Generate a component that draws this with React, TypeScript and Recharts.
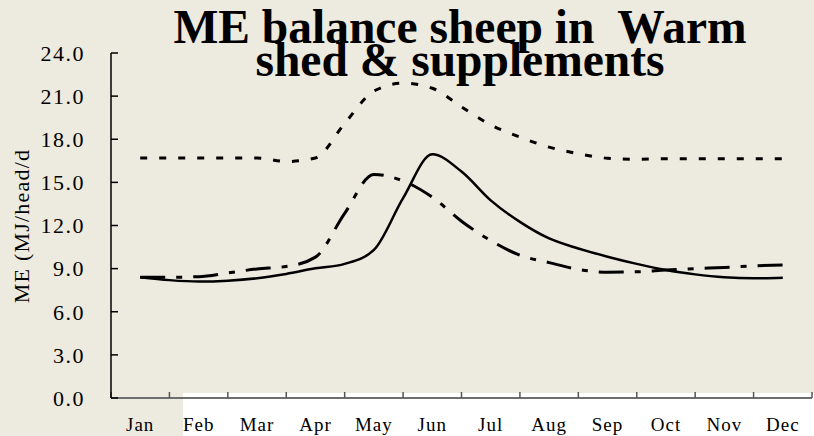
import React from 'react';
import { LineChart, Line, XAxis, YAxis } from 'recharts';

const MONTHS = ['Jan', 'Feb', 'Mar', 'Apr', 'May', 'Jun', 'Jul', 'Aug', 'Sep', 'Oct', 'Nov', 'Dec'];
const X_TICKS = [0, 1, 2, 3, 4, 5, 6, 7, 8, 9, 10, 11, 12];
const Y_TICKS = [0, 3, 6, 9, 12, 15, 18, 21, 24];

// time in months (half-month steps, month centres at .5)
const T = [0.5, 1, 1.5, 2, 2.5, 3, 3.5, 4, 4.5, 5, 5.5, 6, 6.5, 7, 7.5, 8, 8.5, 9, 9.5, 10, 10.5, 11, 11.5];
const SOLID = [8.4, 8.2, 8.1, 8.16, 8.33, 8.63, 9.02, 9.33, 10.3, 13.9, 16.95, 15.75, 13.75, 12.25, 11.1, 10.4, 9.83, 9.33, 8.9, 8.6, 8.4, 8.33, 8.37];
const DASHDOT = [8.4, 8.4, 8.44, 8.7, 8.98, 9.15, 9.8, 12.85, 15.55, 15.1, 13.97, 12.3, 10.95, 9.93, 9.42, 8.95, 8.75, 8.78, 8.9, 9.0, 9.08, 9.19, 9.26];
const DOTTED = [16.7, 16.7, 16.7, 16.7, 16.7, 16.45, 16.7, 19.1, 21.35, 21.9, 21.55, 20.25, 19.0, 18.15, 17.45, 17.0, 16.68, 16.6, 16.65, 16.65, 16.65, 16.65, 16.65];

const data = T.map((t, i) => ({ t, solid: SOLID[i], dashdot: DASHDOT[i], dotted: DOTTED[i] }));

const W = 814;
const H = 436;
const MARGIN = { top: 53, right: 2, left: 31, bottom: 0 };
const Y_AXIS_W = 80;
const PLOT_W = W - MARGIN.left - MARGIN.right - Y_AXIS_W;
const HALF_STEP = PLOT_W / MONTHS.length / 2;
const FONT = "'Liberation Serif', 'Times New Roman', serif";

const MonthTick = (props: any) => {
  const { x, y, payload } = props;
  const i = payload.value;
  if (i >= MONTHS.length) return <g />;
  return (
    <text x={x + HALF_STEP} y={y} textAnchor="middle" fontFamily={FONT} fontSize={19} letterSpacing={1} fill="#000">
      {MONTHS[i]}
    </text>
  );
};

export default function App() {
  return (
    <div style={{ position: 'absolute', left: 0, top: 0, width: W, height: H, background: '#EDEAE0', overflow: 'hidden' }}>
      <div style={{ position: 'absolute', left: 183, top: 393, width: W - 183, height: H - 393, background: '#FFFFFF' }} />
      <div style={{ position: 'absolute', left: 0, top: 0 }}>
        <LineChart width={W} height={H} data={data} margin={MARGIN}>
          <XAxis
            type="number"
            dataKey="t"
            domain={[0, 12]}
            ticks={X_TICKS}
            interval={0}
            height={38}
            tickSize={-6}
            tickMargin={39}
            axisLine={{ stroke: '#6e6e6e', strokeWidth: 2 }}
            tickLine={{ stroke: '#555', strokeWidth: 1.5 }}
            tick={(p: any) => <MonthTick {...p} />}
          />
          <YAxis
            type="number"
            domain={[0, 24]}
            ticks={Y_TICKS}
            interval={0}
            width={Y_AXIS_W}
            tickSize={-7}
            tickMargin={33}
            axisLine={{ stroke: '#000', strokeWidth: 1.5 }}
            tickLine={{ stroke: '#000', strokeWidth: 1.5 }}
            tick={{ fontSize: 22, fill: '#000', fontFamily: FONT, letterSpacing: 1.5 }}
            tickFormatter={(v: number) => v.toFixed(1)}
          />
          <Line type="monotone" dataKey="dotted" stroke="#000" strokeWidth={3} strokeDasharray="7 12" dot={false} isAnimationActive={false} />
          <Line type="monotone" dataKey="dashdot" stroke="#000" strokeWidth={3} strokeDasharray="25 11 6 11" dot={false} isAnimationActive={false} />
          <Line type="monotone" dataKey="solid" stroke="#000" strokeWidth={2.5} dot={false} isAnimationActive={false} />
        </LineChart>
      </div>
      <svg width={W} height={H} style={{ position: 'absolute', left: 0, top: 0, pointerEvents: 'none' }}>
        <text x={460} y={43} textAnchor="middle" fontFamily={FONT} fontWeight="bold" fontSize={47.5} fill="#000" style={{ whiteSpace: 'pre' }}>
          {'ME balance sheep in  Warm'}
        </text>
        <text x={460} y={76} textAnchor="middle" fontFamily={FONT} fontWeight="bold" fontSize={47.5} fill="#000">
          shed &amp; supplements
        </text>
        <text x={29} y={226} textAnchor="middle" fontFamily={FONT} fontSize={22} letterSpacing={1.2} fill="#000" transform="rotate(-90, 29, 226)">
          ME (MJ/head/d
        </text>
      </svg>
    </div>
  );
}
